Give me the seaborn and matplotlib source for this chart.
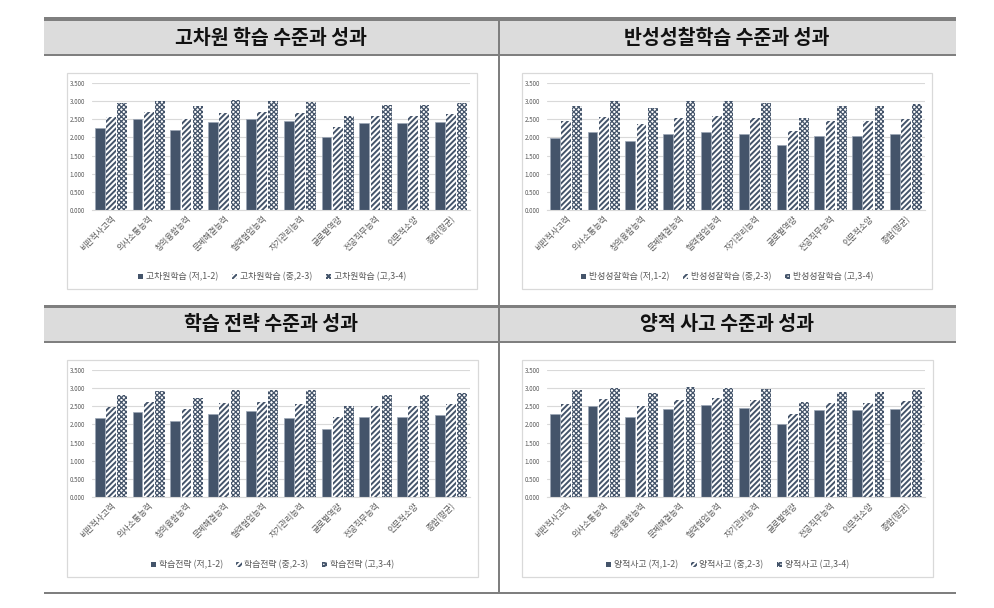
import matplotlib
matplotlib.use('Agg')
import matplotlib.pyplot as plt
import seaborn as sns
import pandas as pd
from matplotlib.patches import Rectangle, Patch

categories = ['비판적사고력', '의사소통능력', '창의융합능력', '문제해결능력', '협력협업능력',
              '자기관리능력', '글로벌역량', '전공직무능력', '인문적소양', '종합(평균)']

# 고차원 학습
high_order_low = [2.27, 2.50, 2.20, 2.42, 2.52, 2.45, 2.01, 2.39, 2.39, 2.42]
high_order_mid = [2.55, 2.69, 2.50, 2.66, 2.71, 2.66, 2.28, 2.58, 2.58, 2.64]
high_order_high = [2.94, 3.00, 2.86, 3.02, 3.00, 2.97, 2.60, 2.89, 2.89, 2.94]

# 반성성찰학습
reflect_low = [1.98, 2.15, 1.91, 2.10, 2.15, 2.10, 1.79, 2.03, 2.03, 2.10]
reflect_mid = [2.44, 2.57, 2.38, 2.53, 2.60, 2.53, 2.18, 2.46, 2.46, 2.51]
reflect_high = [2.87, 3.01, 2.81, 3.01, 3.01, 2.95, 2.53, 2.87, 2.87, 2.93]

# 학습 전략
strategy_low = [2.17, 2.35, 2.10, 2.28, 2.36, 2.18, 1.88, 2.21, 2.21, 2.26]
strategy_mid = [2.47, 2.61, 2.43, 2.59, 2.62, 2.55, 2.20, 2.52, 2.52, 2.55]
strategy_high = [2.81, 2.92, 2.73, 2.95, 2.95, 2.95, 2.52, 2.81, 2.81, 2.87]

# 양적 사고
quant_low = [2.28, 2.52, 2.21, 2.43, 2.53, 2.46, 2.02, 2.40, 2.40, 2.43]
quant_mid = [2.57, 2.70, 2.51, 2.67, 2.72, 2.67, 2.29, 2.59, 2.59, 2.65]
quant_high = [2.95, 3.00, 2.87, 3.03, 3.00, 2.98, 2.61, 2.89, 2.89, 2.95]

panel_titles = ['고차원 학습 수준과 성과', '반성성찰학습 수준과 성과',
                '학습 전략 수준과 성과', '양적 사고 수준과 성과']
series_prefix = ['고차원학습', '반성성찰학습', '학습전략', '양적사고']
level_suffix = ['(저,1-2)', '(중,2-3)', '(고,3-4)']
y_ticks = [0.0, 0.5, 1.0, 1.5, 2.0, 2.5, 3.0, 3.5]

sns.set_theme(style='white')
plt.rcParams['font.family'] = ['Noto Sans CJK KR', 'DejaVu Sans']
plt.rcParams['hatch.linewidth'] = 1.4

W, H = 995, 608
DARK = '#44546A'
TXT = '#595959'
GRID = '#D9D9D9'
STRIPE = '//////'
CHECK = 'xxxxxxx'

fig = plt.figure(figsize=(W / 100, H / 100), dpi=100)


def rect(x0, y0, x1, y1, z=-5, **kw):
    fig.add_artist(Rectangle((x0 / W, 1 - y1 / H), (x1 - x0) / W, (y1 - y0) / H,
                             transform=fig.transFigure, zorder=z, **kw))


def style_check(p):
    p.set_facecolor('white')
    p.set_edgecolor(DARK)
    p.set_hatch(CHECK)
    p.set_linewidth(0)
    if hasattr(p, 'set_hatch_linewidth'):
        p.set_hatch_linewidth(0.9)


# table frame
for (t0, t1, b) in [(16.5, 20.5, 55), (304.5, 307.5, 342)]:
    rect(44, t1, 956, b, z=-6, facecolor='#DCDCDC', edgecolor='none')
    rect(44, t0, 956, t1, facecolor='#7F7F7F', edgecolor='none')
    rect(44, b - 0.8, 956, b + 0.8, facecolor='#7F7F7F', edgecolor='none')
rect(44, 592.3, 956, 594, facecolor='#7F7F7F', edgecolor='none')
rect(498.3, 16.5, 499.9, 593, facecolor='#7F7F7F', edgecolor='none')

# chart boxes
boxes = [(67, 73, 477, 289), (522, 73, 932, 289), (67, 360, 478, 577), (522, 360, 933, 577)]
axes_px = [(92, 83, 470, 210), (547, 83, 925, 210), (92, 370, 470, 497), (547, 370, 925, 497)]
title_pos = [(271, 38), (727, 38), (271, 325), (727, 325)]

datasets = [(high_order_low, high_order_mid, high_order_high),
            (reflect_low, reflect_mid, reflect_high),
            (strategy_low, strategy_mid, strategy_high),
            (quant_low, quant_mid, quant_high)]

for i in range(4):
    bx = boxes[i]
    rect(bx[0], bx[1], bx[2], bx[3], facecolor='white', edgecolor=GRID, linewidth=0.9)
    tx, ty = title_pos[i]
    fig.text(tx / W, 1 - ty / H, panel_titles[i], ha='center', va='center',
             fontsize=14, fontweight='bold', color='#111111')

    x0, y0, x1, y1 = axes_px[i]
    ax = fig.add_axes([x0 / W, 1 - y1 / H, (x1 - x0) / W, (y1 - y0) / H])
    ax.set_zorder(5)
    ax.set_facecolor('none')
    labels = [f'{series_prefix[i]} {s}' for s in level_suffix]
    low, mid, high = datasets[i]
    df = pd.DataFrame({
        'cat': categories * 3,
        'val': list(low) + list(mid) + list(high),
        'grp': [labels[0]] * 10 + [labels[1]] * 10 + [labels[2]] * 10,
    })
    sns.barplot(data=df, x='cat', y='val', hue='grp', hue_order=labels, order=categories,
                palette=[DARK, 'white', 'white'], width=0.89, gap=0.14, saturation=1,
                ax=ax, legend=False, errorbar=None)
    conts = ax.containers
    for p in conts[0]:
        p.set_facecolor(DARK)
        p.set_edgecolor('#9AA5B5')
        p.set_linewidth(0.5)
    for p in conts[1]:
        p.set_facecolor('white')
        p.set_edgecolor(DARK)
        p.set_hatch(STRIPE)
        p.set_linewidth(0)
    for p in conts[2]:
        style_check(p)
    for p in list(conts[1]) + list(conts[2]):
        p.set_zorder(3)

    ax.set_ylim(0, 3.5)
    ax.set_xlim(-0.5, 9.5)
    ax.set_yticks(y_ticks)
    ax.set_yticklabels([f'{v:.3f}' for v in y_ticks], fontsize=4.5, color=TXT)
    ax.set_xticks(range(len(categories)))
    ax.set_xticklabels(categories, rotation=45, ha='right', rotation_mode='anchor',
                       fontsize=6, color=TXT)
    ax.tick_params(axis='both', length=0, pad=3)
    ax.tick_params(axis='y', pad=5)
    ax.set_xlabel('')
    ax.set_ylabel('')
    ax.grid(axis='y', color=GRID, linewidth=0.8)
    ax.set_axisbelow(True)
    for s in ['top', 'right', 'left']:
        ax.spines[s].set_visible(False)
    ax.spines['bottom'].set_color(GRID)
    ax.spines['bottom'].set_linewidth(0.8)

    h3 = Patch()
    style_check(h3)
    handles = [Patch(facecolor=DARK, edgecolor='none'),
               Patch(facecolor='white', edgecolor=DARK, hatch=STRIPE, linewidth=0),
               h3]
    ly = (bx[3] - 12)
    leg = fig.legend(handles, labels, loc='center',
                     bbox_to_anchor=(((bx[0] + bx[2]) / 2) / W, 1 - ly / H),
                     ncol=3, frameon=False, fontsize=6.4, labelcolor=TXT, handlelength=0.6,
                     handleheight=0.6, handletextpad=0.3, columnspacing=1.5, borderpad=0)
    leg.set_zorder(6)

fig.savefig('out.png', dpi=100)
